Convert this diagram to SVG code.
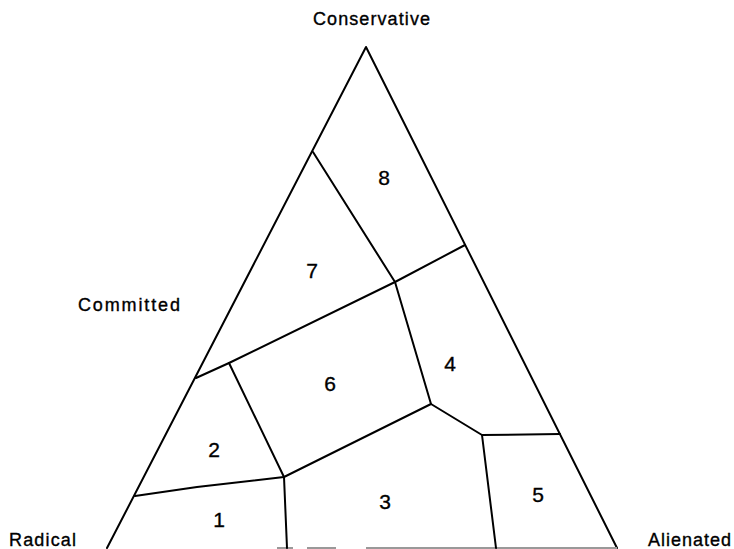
<svg xmlns="http://www.w3.org/2000/svg" width="734" height="549" viewBox="0 0 734 549">
<style>
.e{fill:none;stroke:#000;stroke-width:2;stroke-linejoin:round;stroke-linecap:round}
.b{fill:none;stroke:#999;stroke-width:2}
.lab{font-family:"Liberation Sans",Arial,sans-serif;font-size:18px;fill:#000;stroke:#000;stroke-width:0.35}
.num{font-family:"Liberation Sans",Arial,sans-serif;font-size:21px;fill:#000;stroke:#000;stroke-width:0.35;text-anchor:middle}
</style>
<rect width="734" height="549" fill="#fff"/>
<g id="connectors">
<polyline class="e" points="107,548 366,47 617,548"/>
<line class="b" x1="277" y1="548" x2="293" y2="548"/>
<line class="b" x1="307" y1="548" x2="336" y2="548"/>
<line class="b" x1="366" y1="548" x2="617" y2="548"/>
<polyline class="e" points="313,152 395,282"/>
<polyline class="e" points="196,378 229,363 395,282 465,245"/>
<polyline class="e" points="395,282 431,404 482,435 560,434"/>
<polyline class="e" points="482,435 496,548"/>
<polyline class="e" points="431,404 284,477"/>
<polyline class="e" points="229,363 284,477 287,548"/>
<polyline class="e" points="284,477 197,487 135,496"/>
</g>
<g id="labels">
<text class="lab" x="313" y="25" textLength="117">Conservative</text>
<text class="lab" x="78" y="311" textLength="102">Committed</text>
<text class="lab" x="9" y="546" textLength="67">Radical</text>
<text class="lab" x="648" y="546" textLength="83">Alienated</text>
</g>
<g id="n8"><text class="num" x="384" y="185">8</text></g>
<g id="n7"><text class="num" x="312" y="278">7</text></g>
<g id="n6"><text class="num" x="330" y="391">6</text></g>
<g id="n4"><text class="num" x="450" y="371">4</text></g>
<g id="n2"><text class="num" x="214" y="457">2</text></g>
<g id="n1"><text class="num" x="219" y="527">1</text></g>
<g id="n3"><text class="num" x="385" y="509">3</text></g>
<g id="n5"><text class="num" x="538" y="502">5</text></g>
</svg>
